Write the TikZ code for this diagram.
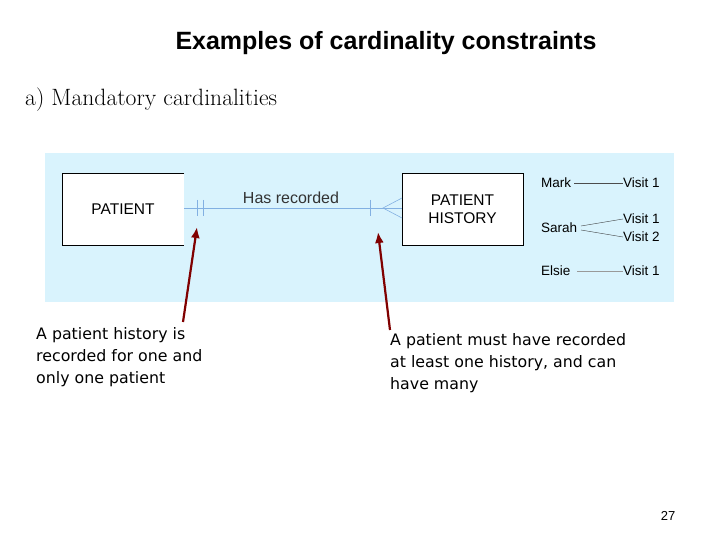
\documentclass[tikz,border=0pt]{standalone}
\usepackage{fontspec}
\usetikzlibrary{arrows.meta}
\setmainfont{Latin Modern Roman}
\newfontfamily\dv{DejaVu Sans}
\newfontfamily\ls{Liberation Sans}
\begin{document}
\begin{tikzpicture}[x=1pt,y=-1pt,
  lbl/.style={font=\ls\fontsize{13.5}{15}\selectfont,inner sep=0},
  note/.style={font=\dv\fontsize{15.8}{22}\selectfont,align=left,anchor=north west,inner sep=0},
  rel/.style={draw=cyan!60!blue!50,line width=0.6pt},
  arr/.style={draw=red!50!black,line width=2.2pt,-{Latex[length=11pt,width=9pt]}}]
\useasboundingbox (0,0) rectangle (720,540);
\fill[cyan!15] (45,153) rectangle (674,302);
\node[font=\ls\bfseries\fontsize{25}{27}\selectfont] (title) at (386,43) {Examples of cardinality constraints};
\node[anchor=west,font=\fontsize{23.6}{25}\selectfont,inner sep=0] (sub) at (25,100) {a) Mandatory cardinalities};
\fill[white] (62,173) rectangle (184,245);
\draw[line width=0.8pt] (184,173) -- (62,173) -- (62,245) -- (184,245);
\node[lbl,font=\ls\fontsize{15.5}{17}\selectfont] (p) at (123,209) {PATIENT};
\node[draw,fill=white,line width=0.8pt,minimum width=121pt,minimum height=72pt,inner sep=0,align=center,font=\ls\fontsize{15.5}{18}\selectfont] (ph) at (462.5,209) {PATIENT\\HISTORY};
\coordinate (pe) at (184,208);
\draw[rel] (pe) -- (ph.west |- pe);
\draw[rel] (197,200) -- (197,216) (203,200) -- (203,216) (370,200) -- (370,216);
\draw[rel] (402,198) -- (383,208) -- (402,218);
\node[lbl,font=\ls\fontsize{16}{18}\selectfont,text=black!80] (hr) at (291,198) {Has recorded};
\node[lbl,anchor=west] (m) at (541,183) {Mark};
\node[lbl,anchor=west] (mv) at (623,183) {Visit 1};
\draw[black!70] (574,183) -- (mv.west);
\node[lbl,anchor=west] (s) at (541,228) {Sarah};
\node[lbl,anchor=west] (sv1) at (623,219) {Visit 1};
\node[lbl,anchor=west] (sv2) at (623,237) {Visit 2};
\draw[black!80] (581,226) -- (sv1.west) (581,230) -- (sv2.west);
\node[lbl,anchor=west] (e) at (541,271) {Elsie};
\node[lbl,anchor=west] (ev) at (623,271) {Visit 1};
\draw[black!40] (577,271) -- (ev.west);
\node[note] (n1) at (36,327) {A patient history is\\recorded for one and\\only one patient};
\node[note] (n2) at (390,333) {A patient must have recorded\\at least one history, and can\\have many};
\coordinate (a1) at (197,227);
\coordinate (a2) at (378,232);
\draw[arr] (183,322) -- (a1);
\draw[arr] (390,330) -- (a2);
\node[font=\ls\fontsize{13}{15}\selectfont] (pg) at (668,516) {27};
\end{tikzpicture}
\end{document}
